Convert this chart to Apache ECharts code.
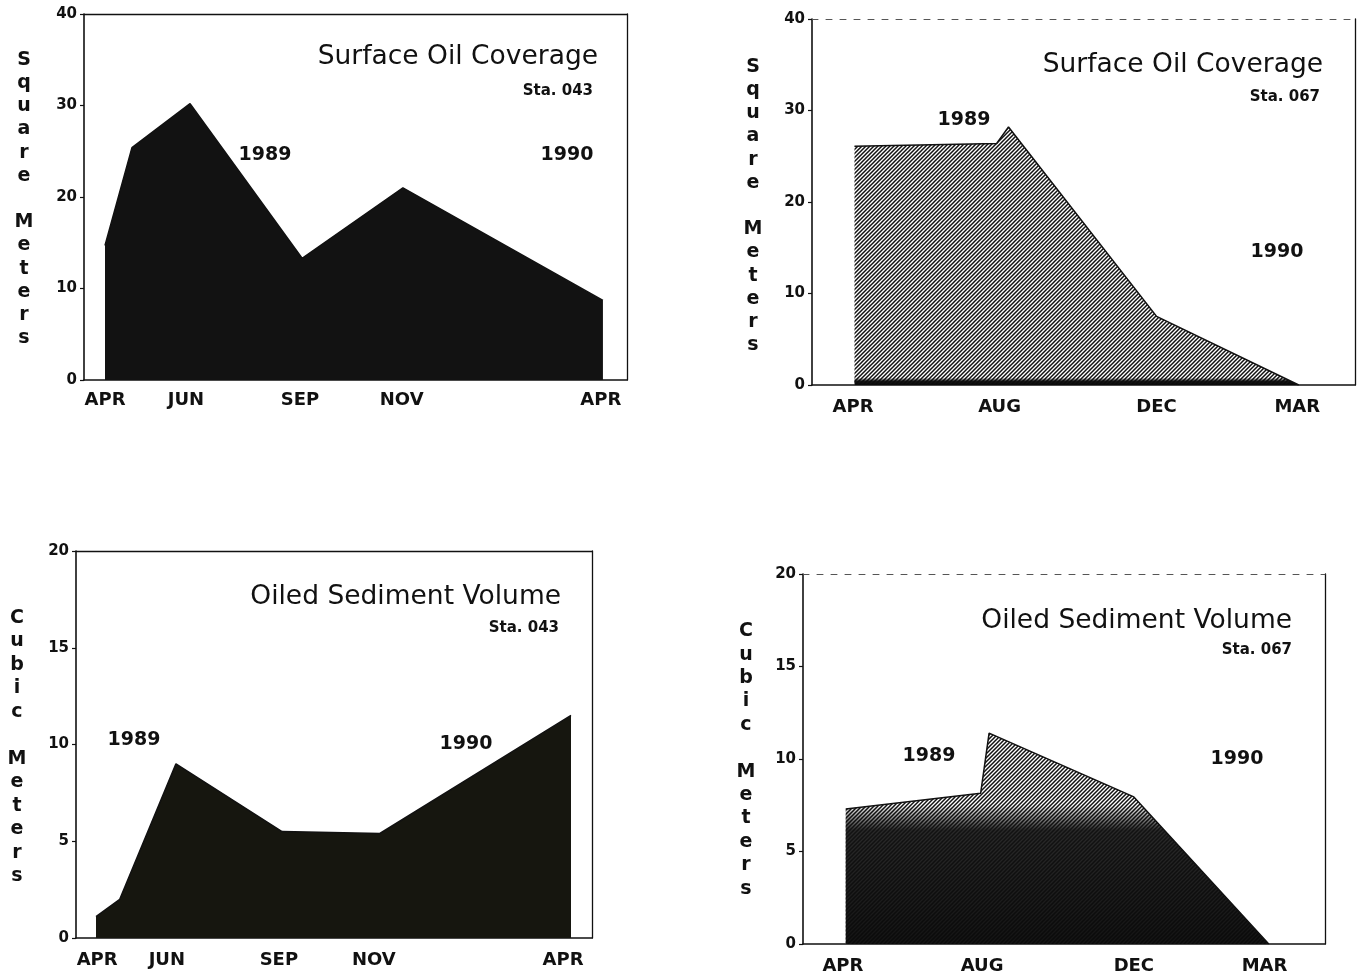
<!DOCTYPE html>
<html>
<head>
<meta charset="utf-8">
<script src="https://cdn.jsdelivr.net/npm/echarts@6/dist/echarts.min.js"></script>
<style>
  html, body { margin: 0; padding: 0; background: #ffffff; }
  #chart { width: 1365px; height: 979px; }
</style>
</head>
<body>
<div id="chart"></div>
<script>
// ---------------- DATA ----------------
// Panel 1: Surface Oil Coverage, Sta. 043 (x = months since Apr 1989, y = square meters)
const p1X = [0, 0.65, 2.05, 4.75, 7.18, 12];
const p1Y = [14.7, 25.4, 30.2, 13.3, 21.0, 8.7];
const p1TickVals = [0, 1.95, 4.7, 7.15, 11.95];
const p1TickNames = ['APR', 'JUN', 'SEP', 'NOV', 'APR'];

// Panel 2: Surface Oil Coverage, Sta. 067 (x = survey period index, y = square meters)
const p2X = [0.01, 0.97, 1.05, 2.05, 3.01];
const p2Y = [26.1, 26.4, 28.2, 7.5, 0];
const p2TickVals = [0, 0.99, 2.05, 3.0];
const p2TickNames = ['APR', 'AUG', 'DEC', 'MAR'];

// Panel 3: Oiled Sediment Volume, Sta. 043 (x = months since Apr 1989, y = cubic meters)
const p3X = [0, 0.6, 2.02, 4.7, 7.17, 12];
const p3Y = [1.1, 2.0, 9.0, 5.5, 5.4, 11.5];
const p3TickVals = [0.03, 1.79, 4.62, 7.02, 11.8];
const p3TickNames = ['APR', 'JUN', 'SEP', 'NOV', 'APR'];

// Panel 4: Oiled Sediment Volume, Sta. 067 (x = survey period index, y = cubic meters)
const p4X = [0.02, 0.98, 1.04, 2.07, 3.03];
const p4Y = [7.3, 8.15, 11.4, 7.95, 0];
const p4TickVals = [0, 0.99, 2.07, 3.0];
const p4TickNames = ['APR', 'AUG', 'DEC', 'MAR'];

const yTitleSquare = ['S','q','u','a','r','e','','M','e','t','e','r','s'];
const yTitleCubic = ['C','u','b','i','c','','M','e','t','e','r','s'];

// ---------------- STYLE HELPERS ----------------
const FONT = 'DejaVu Sans';
const INK = '#111111';

function hatchPattern(p, lw) {
  const c = document.createElement('canvas');
  c.width = p; c.height = p;
  const g = c.getContext('2d');
  g.fillStyle = '#ffffff';
  g.fillRect(0, 0, p, p);
  g.strokeStyle = '#111111';
  g.lineWidth = lw;
  g.beginPath();
  g.moveTo(0, p); g.lineTo(p, 0);
  g.moveTo(-1, 1); g.lineTo(1, -1);
  g.moveTo(p - 1, p + 1); g.lineTo(p + 1, p - 1);
  g.stroke();
  return { image: c, repeat: 'repeat' };
}

function zip(xs, ys) { return xs.map((x, i) => [x, ys[i]]); }

function nearestName(vals, names, v) {
  let best = 0;
  for (let i = 1; i < vals.length; i++) {
    if (Math.abs(vals[i] - v) < Math.abs(vals[best] - v)) best = i;
  }
  return names[best];
}

const grids = [
  { left: 84,  top: 14,  width: 543, height: 366 },
  { left: 812, top: 19,  width: 543, height: 366 },
  { left: 76,  top: 551, width: 516, height: 387 },
  { left: 803, top: 574, width: 522, height: 370 }
];

const panels = [
  { xmin: -0.506, xmax: 12.58, ymax: 40, yint: 10, vals: p1TickVals, names: p1TickNames, lblMargin: 11, topDashed: false },
  { xmin: -0.277, xmax: 3.39,  ymax: 40, yint: 10, vals: p2TickVals, names: p2TickNames, lblMargin: 13, topDashed: true },
  { xmin: -0.505, xmax: 12.53, ymax: 20, yint: 5,  vals: p3TickVals, names: p3TickNames, lblMargin: 13, topDashed: false },
  { xmin: -0.284, xmax: 3.43,  ymax: 20, yint: 5,  vals: p4TickVals, names: p4TickNames, lblMargin: 13, topDashed: true }
];

const xAxes = [];
const yAxes = [];
panels.forEach((p, i) => {
  xAxes.push({
    type: 'value', gridIndex: i, position: 'bottom', min: p.xmin, max: p.xmax,
    axisLine: { show: true, onZero: false, lineStyle: { color: INK, width: 1.6 } },
    axisTick: { show: false },
    splitLine: { show: false },
    axisLabel: {
      customValues: p.vals,
      formatter: (v) => nearestName(p.vals, p.names, v),
      color: INK, fontFamily: FONT, fontWeight: 'bold', fontSize: 18, margin: p.lblMargin
    }
  });
  xAxes.push({
    type: 'value', gridIndex: i, position: 'top', min: p.xmin, max: p.xmax,
    axisLine: { show: true, onZero: false, lineStyle: p.topDashed ? { color: '#555', width: 1, type: [6, 8] } : { color: INK, width: 1.3 } },
    axisTick: { show: false }, axisLabel: { show: false }, splitLine: { show: false }
  });
  yAxes.push({
    type: 'value', gridIndex: i, position: 'left', min: 0, max: p.ymax, interval: p.yint,
    axisLine: { show: true, onZero: false, lineStyle: { color: INK, width: 1.6 } },
    axisTick: { show: true, inside: false, length: 4, lineStyle: { color: INK, width: 1.2 } },
    splitLine: { show: false },
    axisLabel: { color: INK, fontFamily: FONT, fontWeight: 'bold', fontSize: 15, margin: 7 }
  });
  yAxes.push({
    type: 'value', gridIndex: i, position: 'right', min: 0, max: p.ymax,
    axisLine: { show: true, onZero: false, lineStyle: { color: INK, width: 1.3 } },
    axisTick: { show: false }, axisLabel: { show: false }, splitLine: { show: false }
  });
});

const solidDark = '#121212';

const series = [
  // Panel 1
  {
    type: 'line', xAxisIndex: 0, yAxisIndex: 0, data: zip(p1X, p1Y),
    symbol: 'none', lineStyle: { color: INK, width: 1.5 },
    areaStyle: { color: solidDark, opacity: 1 }
  },
  // Panel 2 : hatched area
  {
    type: 'line', xAxisIndex: 2, yAxisIndex: 2, data: zip(p2X, p2Y),
    symbol: 'none', lineStyle: { color: INK, width: 1.5 },
    areaStyle: { color: hatchPattern(4, 1.5), opacity: 1 }
  },
  // Panel 2 : dark band along the bottom
  {
    type: 'line', xAxisIndex: 2, yAxisIndex: 2, data: zip(p2X, p2Y),
    symbol: 'none', lineStyle: { width: 0, opacity: 0 }, silent: true,
    areaStyle: {
      opacity: 1,
      color: { type: 'linear', x: 0, y: 0, x2: 0, y2: 1, colorStops: [
        { offset: 0, color: 'rgba(0,0,0,0)' },
        { offset: 0.972, color: 'rgba(0,0,0,0)' },
        { offset: 0.985, color: 'rgba(10,10,10,0.95)' },
        { offset: 1, color: 'rgba(10,10,10,1)' }
      ] }
    }
  },
  // Panel 3
  {
    type: 'line', xAxisIndex: 4, yAxisIndex: 4, data: zip(p3X, p3Y),
    symbol: 'none', lineStyle: { color: INK, width: 1.5 },
    areaStyle: { color: '#16160f', opacity: 1 }
  },
  // Panel 4 : hatched area
  {
    type: 'line', xAxisIndex: 6, yAxisIndex: 6, data: zip(p4X, p4Y),
    symbol: 'none', lineStyle: { color: INK, width: 1.5 },
    areaStyle: { color: hatchPattern(4, 1.5), opacity: 1 }
  },
  // Panel 4 : dark lower body
  {
    type: 'line', xAxisIndex: 6, yAxisIndex: 6, data: zip(p4X, p4Y),
    symbol: 'none', lineStyle: { width: 0, opacity: 0 }, silent: true,
    areaStyle: {
      opacity: 1,
      color: { type: 'linear', x: 0, y: 0, x2: 0, y2: 1, colorStops: [
        { offset: 0, color: 'rgba(0,0,0,0)' },
        { offset: 0.34, color: 'rgba(0,0,0,0)' },
        { offset: 0.46, color: 'rgba(18,18,18,0.9)' },
        { offset: 1, color: 'rgba(10,10,10,0.96)' }
      ] }
    }
  }
];

function txt(text, x, y, size, weight, align) {
  return {
    type: 'text', x: x, y: y, z: 100,
    style: {
      text: text, fill: INK, fontFamily: FONT, fontSize: size, fontWeight: weight,
      align: align, verticalAlign: 'middle'
    }
  };
}
function stackTitle(letters, x, yCenter, lh) {
  return {
    type: 'text', x: x, y: yCenter, z: 100,
    style: {
      text: letters.join('\n'), fill: INK, fontFamily: FONT, fontSize: 19, fontWeight: 'bold',
      align: 'center', verticalAlign: 'middle', lineHeight: lh
    }
  };
}

const graphics = [
  // Panel 1
  txt('Surface Oil Coverage', 598, 57, 26.5, 'normal', 'right'),
  txt('Sta. 043', 593, 91, 15, 'bold', 'right'),
  txt('1989', 265, 155, 19, 'bold', 'center'),
  txt('1990', 567, 155, 19, 'bold', 'center'),
  stackTitle(yTitleSquare, 24, 199, 23.2),
  // Panel 2
  txt('Surface Oil Coverage', 1323, 65, 26.5, 'normal', 'right'),
  txt('Sta. 067', 1320, 97, 15, 'bold', 'right'),
  txt('1989', 964, 120, 19, 'bold', 'center'),
  txt('1990', 1277, 252, 19, 'bold', 'center'),
  stackTitle(yTitleSquare, 753, 206, 23.2),
  // Panel 3
  txt('Oiled Sediment Volume', 561, 597, 26.5, 'normal', 'right'),
  txt('Sta. 043', 559, 628, 15, 'bold', 'right'),
  txt('1989', 134, 740, 19, 'bold', 'center'),
  txt('1990', 466, 744, 19, 'bold', 'center'),
  stackTitle(yTitleCubic, 17, 747, 23.5),
  // Panel 4
  txt('Oiled Sediment Volume', 1292, 621, 26.5, 'normal', 'right'),
  txt('Sta. 067', 1292, 650, 15, 'bold', 'right'),
  txt('1989', 929, 756, 19, 'bold', 'center'),
  txt('1990', 1237, 759, 19, 'bold', 'center'),
  stackTitle(yTitleCubic, 746, 760, 23.4)
];

const chart = echarts.init(document.getElementById('chart'), null, { renderer: 'canvas' });
chart.setOption({
  animation: false,
  backgroundColor: '#ffffff',
  grid: grids.map(g => Object.assign({ containLabel: false }, g)),
  xAxis: xAxes,
  yAxis: yAxes,
  series: series,
  graphic: graphics
});
</script>
</body>
</html>
